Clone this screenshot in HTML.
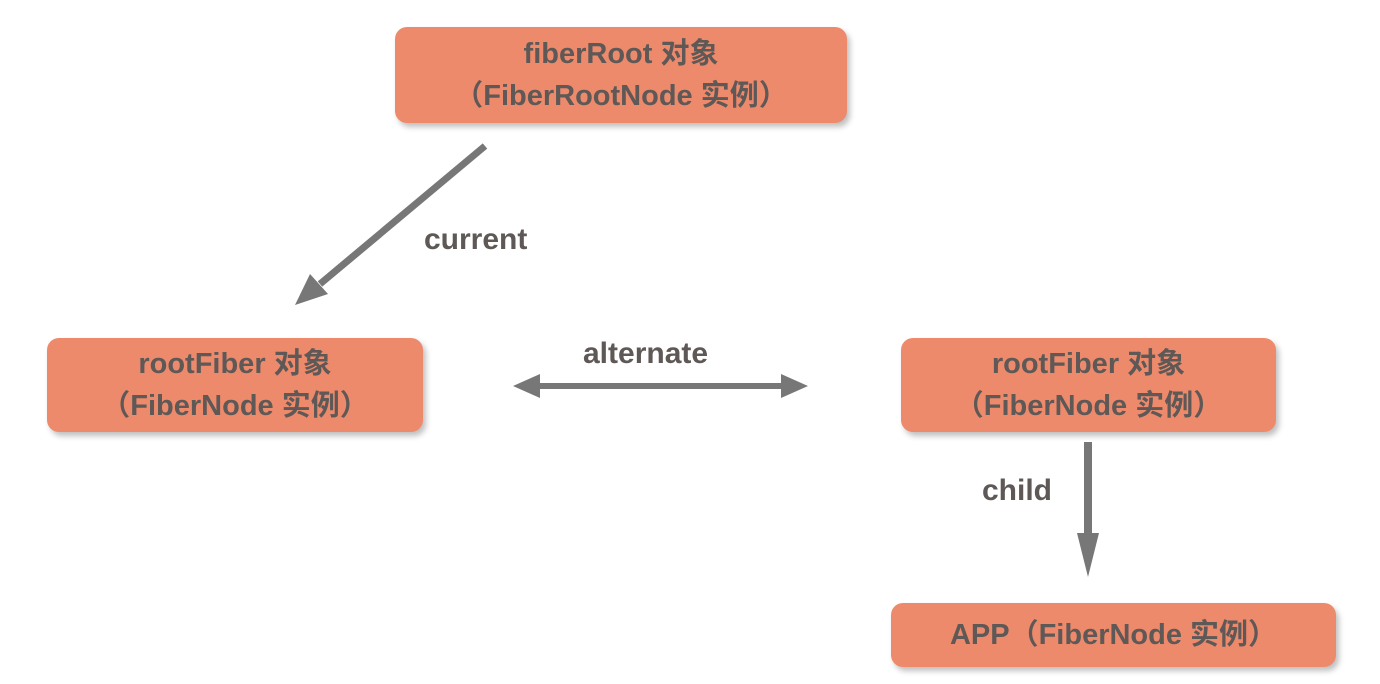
<!DOCTYPE html>
<html><head><meta charset="utf-8"><style>
html,body{margin:0;padding:0;width:1380px;height:684px;background:#fff;overflow:hidden}
.b{position:absolute;background:#ee8a6c;border-radius:12px;box-shadow:3px 4px 6px rgba(0,0,0,0.25);color:#5e5856;font-family:"Liberation Sans","Noto Sans CJK SC",sans-serif;font-weight:bold;font-size:29px;line-height:42px;text-align:center;display:flex;flex-direction:column;justify-content:center}
.l{position:absolute;color:#5e5856;font-family:"Liberation Sans","Noto Sans CJK SC",sans-serif;font-weight:bold;font-size:30px}
</style></head><body>
<div class="b" style="left:395px;top:27px;width:452px;height:96px"><div>fiberRoot 对象</div><div>（FiberRootNode 实例）</div></div>
<div class="b" style="left:47px;top:338px;width:376px;height:94px"><div>rootFiber 对象</div><div>（FiberNode 实例）</div></div>
<div class="b" style="left:901px;top:338px;width:375px;height:94px"><div>rootFiber 对象</div><div>（FiberNode 实例）</div></div>
<div class="b" style="left:891px;top:603px;width:445px;height:64px"><div>APP（FiberNode 实例）</div></div>
<div class="l" style="left:424px;top:223px">current</div>
<div class="l" style="left:583px;top:337px">alternate</div>
<div class="l" style="left:982px;top:474px">child</div>
<svg width="1380" height="684" style="position:absolute;left:0;top:0">
<g fill="#777" stroke="none">
<line x1="485" y1="146" x2="320" y2="284" stroke="#777" stroke-width="7"/>
<polygon points="295,305 310,274 328,294"/>
<line x1="535" y1="386" x2="786" y2="386" stroke="#777" stroke-width="6"/>
<polygon points="513,386 540,374 540,398"/>
<polygon points="808,386 781,374 781,398"/>
<line x1="1088" y1="442" x2="1088" y2="550" stroke="#777" stroke-width="8"/>
<polygon points="1077,533 1099,533 1088,577"/>
</g></svg>
</body></html>
